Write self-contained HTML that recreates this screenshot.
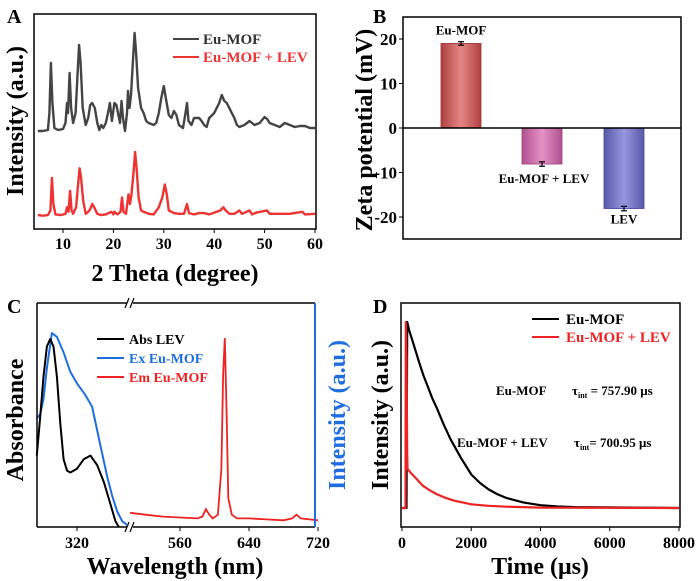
<!DOCTYPE html>
<html><head><meta charset="utf-8"><style>
html,body{margin:0;padding:0;background:#fff}
svg{display:block;font-family:"Liberation Serif",serif;font-weight:bold}
</style></head><body>
<svg id="fig" width="700" height="581" viewBox="0 0 700 581" xmlns="http://www.w3.org/2000/svg">
<defs>
<linearGradient id="gRed" x1="0" x2="1"><stop offset="0" stop-color="#b04040"/><stop offset="0.5" stop-color="#e48686"/><stop offset="1" stop-color="#b04040"/></linearGradient>
<linearGradient id="gPink" x1="0" x2="1"><stop offset="0" stop-color="#b0508f"/><stop offset="0.5" stop-color="#e592c6"/><stop offset="1" stop-color="#b0508f"/></linearGradient>
<linearGradient id="gBlue" x1="0" x2="1"><stop offset="0" stop-color="#5858a8"/><stop offset="0.5" stop-color="#9696e0"/><stop offset="1" stop-color="#5858a8"/></linearGradient>
</defs>
<g id="A"></g>
<g id="B"></g>
<g id="C"></g>
<g id="D"></g>
</svg>
<script>
// ---- Panel A data (2θ, relative intensity 0-100)
const xrdBlackX=[5,6,7,7.3,7.6,7.9,8.3,9,10,10.5,10.8,11,11.3,11.6,12,12.5,12.9,13.2,13.5,13.9,14.5,15,15.4,15.8,16.3,16.8,17.2,17.6,18,18.5,19,19.3,19.7,20.2,20.6,21,21.3,21.6,21.9,22.3,22.7,22.9,23.2,23.5,23.9,24.2,24.5,24.9,25.5,26,26.5,27,28,28.5,29,29.5,30,30.4,31,31.5,32,32.5,33,33.8,34.3,34.6,34.9,35.5,36,37,37.5,38,38.5,39,40,40.5,41,41.5,42,42.5,43,43.5,44,44.5,45,46,47,48,49,50,50.5,51,52,53,54,55,56,57,58,59,60];
const xrdBlackY=[2,2,3,20,70,30,5,3,4,10,30,20,60,25,10,20,60,88,70,25,8,15,28,30,25,10,3,8,5,10,22,30,12,30,28,18,10,32,15,2,20,42,25,38,75,100,80,45,25,20,12,10,8,10,20,35,47,35,18,15,22,18,8,5,20,30,12,8,15,15,12,8,6,15,20,25,30,38,32,30,25,20,15,8,6,8,12,8,10,16,14,10,8,6,10,8,6,7,7,5,5];
const xrdRedX=[5,6,7,7.5,7.8,8.1,8.5,9.5,10.5,10.8,11.1,11.4,11.7,12,12.6,13,13.3,13.6,14,14.5,15,15.4,15.8,16.2,16.8,17.5,18.5,19.6,20,20.2,20.8,21.4,21.7,22,22.5,23,23.3,23.6,24,24.3,24.6,25,25.5,26,27,28,29,29.7,30.2,30.6,31,32,33,34,34.6,35,36,37,38,39,40.5,41.2,41.8,42.3,43,44,45,45.5,47,47.5,48.5,50.5,51,53,55,57.5,58,60];
const xrdRedY=[3,2,3,10,60,20,4,3,5,15,8,40,10,5,15,50,75,60,25,5,8,12,20,15,5,3,4,8,4,8,4,8,30,8,5,35,20,35,70,100,75,30,10,8,5,4,15,30,50,35,10,6,5,5,20,6,4,6,6,4,8,10,15,10,5,5,10,5,10,4,7,10,5,5,5,8,4,5];
const xrdTicks=[10,20,30,40,50,60];
// ---- Panel B data
const zetaCats=["Eu-MOF","Eu-MOF + LEV","LEV"];
const zetaVals=[19,-8.1,-18.1];
const zetaErr=[0.4,0.5,0.5];
const zetaTicks=[20,10,0,-10,-20];
// ---- Panel C data (nm, relative 0-100)
const absX=[272,276,280,284,288,292,296,300,304,308,312,320,328,336,344,352,360,366,370];
const absY=[38,58,80,96,100,96,80,55,36,30,29,31,36,38,33,24,12,3,0];
const exX=[272,276,280,284,290,296,304,312,320,330,338,344,350,356,362,368,374,380];
const exY=[56,58,66,82,100,98,90,80,74,68,62,50,38,26,16,8,3,1];
const emX=[502,520,540,560,580,586,590,594,598,604,608,610,612,614,616,620,626,640,660,680,690,695,700,720];
const emY=[6,5,4,3.5,3,4,8,5,3,5,30,80,100,60,14,5,3,3,2.5,2,3,5,3,2];
const cTicks=[320,560,640,720];
// ---- Panel D data (μs, relative 0-100)
const decayBlackX=[0,130,150,200,300,400,500,625,750,875,1000,1200,1400,1700,2000,2250,2500,2750,3000,3500,4000,4500,5000,8000];
const decayBlackY=[0,0,100,96,90,84,78,71,65,59,54,45,37,27,18,13.5,10,7.5,5.5,3,1.5,0.8,0.5,0];
const decayRedX=[0,100,110,130,150,160,250,400,600,800,1000,1250,1500,2000,2500,3000,4000,8000];
const decayRedY=[0,0,100,80,30,21,19,16,12,9.5,7.5,5.5,4,2,1.2,0.7,0.2,0];
const dTicks=[0,2000,4000,6000,8000];

const NS="http://www.w3.org/2000/svg";
function mk(parent,tag,attrs,text){const e=document.createElementNS(NS,tag);for(const k in attrs)e.setAttribute(k,attrs[k]);if(text!==undefined)e.textContent=text;parent.appendChild(e);return e;}
function lin(d0,d1,r0,r1){return v=>r0+(v-d0)*(r1-r0)/(d1-d0);}
function pathD(xs,ys,fx,fy){return xs.map((x,i)=>(i?"L":"M")+fx(x).toFixed(1)+","+fy(ys[i]).toFixed(1)).join("");}
const TF=16, AF=24;

// ===== A
(function(){
const g=document.getElementById('A');
const L=34,R=316,T=14,B=229;
const x=lin(10,60,63,315);
const yb=lin(0,100,133,33), yr=lin(0,100,217,152);
let p=mk(g,'path',{d:pathD(xrdBlackX,xrdBlackY,x,yb),fill:'none',stroke:'#444',"stroke-width":2.4,"stroke-linejoin":'round'});

p=mk(g,'path',{d:pathD(xrdRedX,xrdRedY,x,yr),fill:'none',stroke:'#ee3333',"stroke-width":2.4,"stroke-linejoin":'round'});

p=mk(g,'rect',{x:L,y:T,width:R-L,height:B-T,fill:'none',stroke:'#000',"stroke-width":1.5});

xrdTicks.forEach(t=>{mk(g,'line',{x1:x(t),x2:x(t),y1:B,y2:B+4,stroke:'#000'});
 p=mk(g,'text',{x:x(t),y:B+20,"text-anchor":'middle',"font-size":TF},t);
 });
p=mk(g,'text',{x:175,y:281,"text-anchor":'middle',"font-size":AF},"2 Theta (degree)");
p=mk(g,'text',{x:23,y:121,"text-anchor":'middle',"font-size":AF,transform:'rotate(-90 23 121)'},"Intensity (a.u.)");
p=mk(g,'text',{x:7,y:23,"font-size":20},"A");
mk(g,'line',{x1:173,x2:199,y1:39,y2:39,stroke:'#444',"stroke-width":2});
p=mk(g,'text',{x:203,y:44,"font-size":15,fill:'#333'},"Eu-MOF");
mk(g,'line',{x1:173,x2:199,y1:57,y2:57,stroke:'#ee3333',"stroke-width":2});
p=mk(g,'text',{x:203,y:62,"font-size":15,fill:'#ee3333'},"Eu-MOF + LEV");
})();

// ===== B
(function(){
const g=document.getElementById('B');
const L=403,R=681,T=17,B=239;
const y=lin(0,20,128,39);
const cx=[461,542,624], fills=['url(#gRed)','url(#gPink)','url(#gBlue)'], strokes=['#a03030','#a04080','#4848a0'];
const bw=40;
zetaVals.forEach((v,i)=>{
 let r=mk(g,'rect',{x:cx[i]-bw/2,y:Math.min(y(v),y(0)),width:bw,height:Math.abs(y(v)-y(0)),fill:fills[i],stroke:strokes[i],"stroke-width":0.8});
 
 const e1=y(v-zetaErr[i]),e2=y(v+zetaErr[i]);
 mk(g,'line',{x1:cx[i],x2:cx[i],y1:e1,y2:e2,stroke:'#000',"stroke-width":1.2});
 mk(g,'line',{x1:cx[i]-3,x2:cx[i]+3,y1:e1,y2:e1,stroke:'#000',"stroke-width":1.2});
 mk(g,'line',{x1:cx[i]-3,x2:cx[i]+3,y1:e2,y2:e2,stroke:'#000',"stroke-width":1.2});
 const ly = v>0 ? y(v)-9 : y(v)+15;
 let t=mk(g,'text',{x:cx[i]+(i==1?2:0),y:ly+(i==1?4:0),"text-anchor":'middle',"font-size":13},zetaCats[i]);
 
});
mk(g,'line',{x1:L,x2:R,y1:y(0),y2:y(0),stroke:'#000',"stroke-width":1.5});
let p=mk(g,'rect',{x:L,y:T,width:R-L,height:B-T,fill:'none',stroke:'#000',"stroke-width":1.5});

zetaTicks.forEach(t=>{mk(g,'line',{x1:L-4,x2:L,y1:y(t),y2:y(t),stroke:'#000'});
 p=mk(g,'text',{x:L-6,y:y(t)+6,"text-anchor":'end',"font-size":17},t);
 });
p=mk(g,'text',{x:372,y:130,"text-anchor":'middle',"font-size":AF,transform:'rotate(-90 372 130)'},"Zeta potential (mV)");
p=mk(g,'text',{x:373,y:23,"font-size":20},"B");
})();

// ===== C
(function(){
const g=document.getElementById('C');
const L=37,R=315,T=303,B=527,BR=128;
const xl=lin(320,360,77,110.5), xr=lin(560,640,180,249);
const ya=lin(0,100,527,339), ye=lin(0,100,527,333), yem=lin(0,100,524,338);
let p=mk(g,'path',{d:pathD(exX,exY,xl,ye),fill:'none',stroke:'#1e6ee0',"stroke-width":2,"stroke-linejoin":'round'});
p=mk(g,'path',{d:pathD(absX,absY,xl,ya),fill:'none',stroke:'#000',"stroke-width":2,"stroke-linejoin":'round'});
p=mk(g,'path',{d:pathD(emX,emY,xr,yem),fill:'none',stroke:'#ee2222',"stroke-width":1.8});
mk(g,'line',{x1:L,x2:R,y1:T,y2:T,stroke:'#000',"stroke-width":1.5});
mk(g,'line',{x1:L,x2:R,y1:B,y2:B,stroke:'#000',"stroke-width":1.5});
mk(g,'line',{x1:L,x2:L,y1:T,y2:B,stroke:'#000',"stroke-width":1.5});
mk(g,'line',{x1:R,x2:R,y1:T,y2:B,stroke:'#1e6ee0',"stroke-width":2});
[T,B].forEach(yy=>{mk(g,'rect',{x:BR-1,y:yy-5,width:6,height:10,fill:'#fff'});
 mk(g,'line',{x1:BR-3,x2:BR+1,y1:yy+5,y2:yy-5,stroke:'#000',"stroke-width":1.2});
 mk(g,'line',{x1:BR+2,x2:BR+6,y1:yy+5,y2:yy-5,stroke:'#000',"stroke-width":1.2});});
cTicks.forEach(t=>{const xx=t<400?xl(t):xr(t);mk(g,'line',{x1:xx,x2:xx,y1:B,y2:B+4,stroke:'#000'});
 p=mk(g,'text',{x:xx,y:B+21,"text-anchor":'middle',"font-size":TF},t);});
p=mk(g,'text',{x:175,y:574,"text-anchor":'middle',"font-size":AF},"Wavelength (nm)");
p=mk(g,'text',{x:23,y:420,"text-anchor":'middle',"font-size":AF,transform:'rotate(-90 23 420)'},"Absorbance");
p=mk(g,'text',{x:345,y:415,"text-anchor":'middle',"font-size":AF,fill:'#1e6ee0',transform:'rotate(-90 345 415)'},"Intensity (a.u.)");
p=mk(g,'text',{x:7,y:313,"font-size":20},"C");
const lg=[["Abs LEV","#000",339],["Ex  Eu-MOF","#1e6ee0",358],["Em Eu-MOF","#ee2222",377]];
lg.forEach(l=>{mk(g,'line',{x1:97,x2:124,y1:l[2],y2:l[2],stroke:l[1],"stroke-width":2});
 p=mk(g,'text',{x:129,y:l[2]+5,"font-size":14,fill:l[1],"xml:space":'preserve'},l[0]);});
})();

// ===== D
(function(){
const g=document.getElementById('D');
const L=401,R=680,T=303,B=527;
const x=lin(0,8000,402,679), y=lin(0,100,508,322);
let p=mk(g,'path',{d:pathD(decayBlackX,decayBlackY,x,y),fill:'none',stroke:'#000',"stroke-width":2.2,"stroke-linejoin":'round'});
p=mk(g,'path',{d:pathD(decayRedX,decayRedY,x,y),fill:'none',stroke:'#ee2222',"stroke-width":2.2,"stroke-linejoin":'round'});
p=mk(g,'rect',{x:L,y:T,width:R-L,height:B-T,fill:'none',stroke:'#000',"stroke-width":1.5});
dTicks.forEach(t=>{mk(g,'line',{x1:x(t),x2:x(t),y1:B,y2:B+4,stroke:'#000'});
 p=mk(g,'text',{x:x(t),y:B+21,"text-anchor":'middle',"font-size":TF},t);});
p=mk(g,'text',{x:540,y:574,"text-anchor":'middle',"font-size":AF},"Time (μs)");
p=mk(g,'text',{x:388,y:415,"text-anchor":'middle',"font-size":AF,transform:'rotate(-90 388 415)'},"Intensity (a.u.)");
p=mk(g,'text',{x:373,y:313,"font-size":20},"D");
mk(g,'line',{x1:532,x2:559,y1:319,y2:319,stroke:'#000',"stroke-width":2});
p=mk(g,'text',{x:566,y:324,"font-size":15},"Eu-MOF");
mk(g,'line',{x1:532,x2:559,y1:337,y2:337,stroke:'#ee2222',"stroke-width":2});
p=mk(g,'text',{x:566,y:342,"font-size":15,fill:'#ee2222'},"Eu-MOF + LEV");
p=mk(g,'text',{x:496,y:395,"font-size":13},"Eu-MOF");
p=mk(g,'text',{x:457,y:447,"font-size":13},"Eu-MOF + LEV");
let t=mk(g,'text',{x:572,y:395,"font-size":13});
t.innerHTML='τ<tspan font-size="8" dy="3">int</tspan><tspan dy="-3"> = 757.90 μs</tspan>';
t=mk(g,'text',{x:574,y:447,"font-size":13});
t.innerHTML='τ<tspan font-size="8" dy="3">int</tspan><tspan dy="-3">= 700.95 μs</tspan>';
})();
</script>
</body></html>
